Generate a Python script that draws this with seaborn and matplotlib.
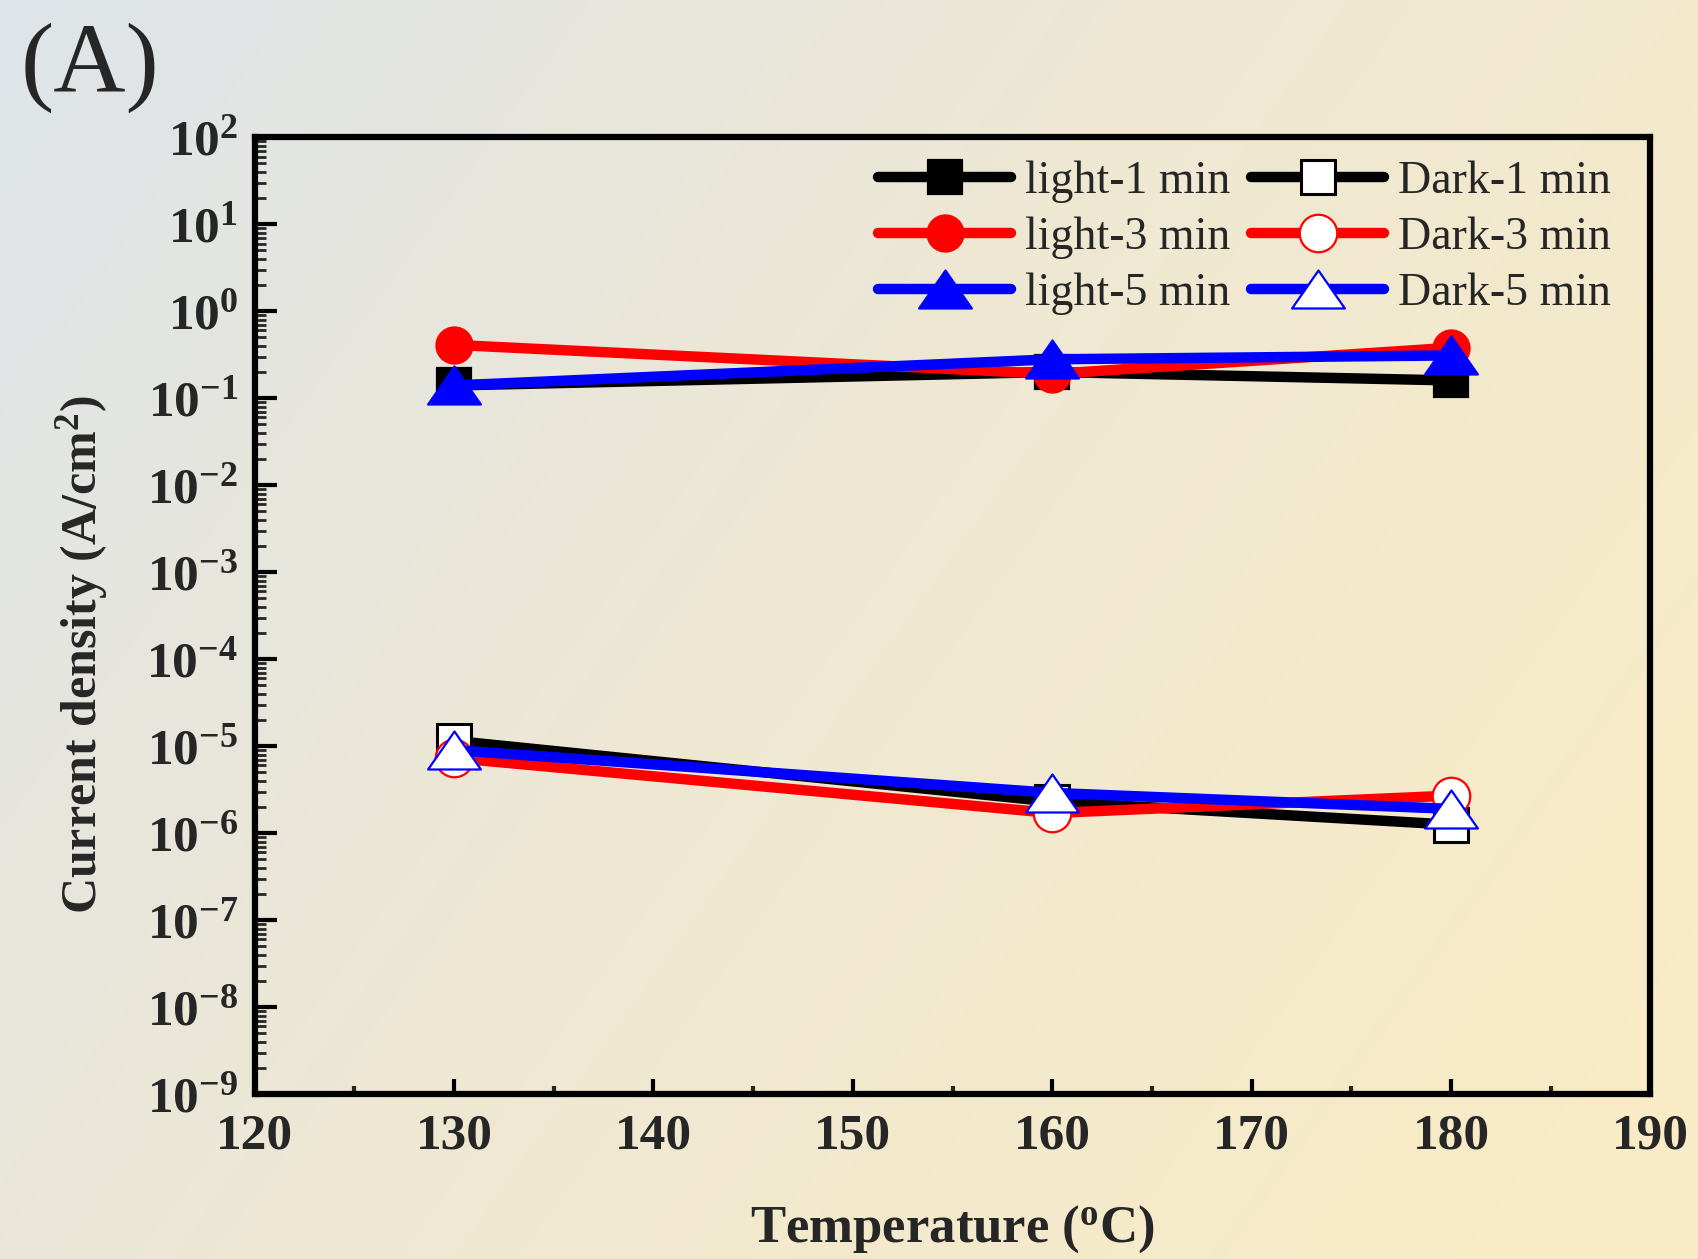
import matplotlib
matplotlib.use("Agg")
import matplotlib.pyplot as plt
import seaborn as sns
import numpy as np
import pandas as pd
from matplotlib.path import Path
from matplotlib.ticker import MultipleLocator, LogLocator, NullFormatter, FuncFormatter

# ---------------------------------------------------------------------------
# Data
# ---------------------------------------------------------------------------
temperature = [130, 160, 180]

light_1min = [0.14, 0.20, 0.16]
light_3min = [0.41, 0.19, 0.38]
light_5min = [0.14, 0.28, 0.31]

dark_1min = [1.15e-5, 2.3e-6, 1.25e-6]
dark_3min = [7.3e-6, 1.7e-6, 2.7e-6]
dark_5min = [9.0e-6, 2.9e-6, 1.9e-6]

x_ticks = [120, 130, 140, 150, 160, 170, 180, 190]

sns.set_theme(style="ticks")
plt.rcParams["font.family"] = ["Liberation Serif", "DejaVu Serif"]
plt.rcParams["mathtext.fontset"] = "custom"
plt.rcParams["mathtext.rm"] = "Liberation Serif:bold"
plt.rcParams["mathtext.bf"] = "Liberation Serif:bold"
plt.rcParams["mathtext.it"] = "Liberation Serif:bold"

# the triangles in the original are wider than tall
tri = Path([(-0.5, -0.36), (0.5, -0.36), (0.0, 0.36), (-0.5, -0.36)],
           [Path.MOVETO, Path.LINETO, Path.LINETO, Path.CLOSEPOLY])

fig = plt.figure(figsize=(16.98, 12.59), dpi=100)

# background gradient
bg = fig.add_axes([0, 0, 1, 1], zorder=-10)
gx, gy = np.meshgrid(np.linspace(0, 1, 400), np.linspace(0, 1, 300))
t = np.clip(0.72 * gx + 0.38 * gy, 0, 1)[..., None]
c0 = np.array([222, 228, 233]) / 255
c1 = np.array([238, 232, 212]) / 255
c2 = np.array([248, 235, 198]) / 255
img = np.where(t < 0.5, c0 + (c1 - c0) * (t / 0.5), c1 + (c2 - c1) * ((t - 0.5) / 0.5))
bg.imshow(img, aspect="auto", extent=[0, 1, 0, 1], origin="upper")
bg.axis("off")

ax = fig.add_axes([0.150, 0.131, 0.822, 0.760])
ax.set_facecolor("none")

series = [
    ("light-1 min", light_1min, "black", "s", 25, True),
    ("light-3 min", light_3min, "red", "o", 26, True),
    ("light-5 min", light_5min, "blue", tri, 38, True),
    ("Dark-1 min", dark_1min, "black", "s", 25, False),
    ("Dark-3 min", dark_3min, "red", "o", 27, False),
    ("Dark-5 min", dark_5min, "blue", tri, 38, False),
]

handles = []
for name, vals, color, mk, ms, filled in series:
    df = pd.DataFrame({"T": temperature, "J": vals})
    sns.lineplot(data=df, x="T", y="J", ax=ax, color=color, lw=7.5,
                 marker=mk, markersize=ms,
                 markeredgewidth=2.2 if (color == "black" and not filled) else 1.6,
                 markerfacecolor=color if filled else "white",
                 markeredgecolor=color,
                 label=name, legend=False)
    handles.append(ax.lines[-1])

ax.set_yscale("log")
ax.set_xlim(120, 190)
ax.set_ylim(1e-9, 1e2)
ax.set_xticks(x_ticks)
ax.xaxis.set_minor_locator(MultipleLocator(5))
ax.yaxis.set_major_locator(LogLocator(base=10, numticks=20))
ax.yaxis.set_minor_locator(LogLocator(base=10, subs=np.arange(2, 10), numticks=20))
ax.yaxis.set_minor_formatter(NullFormatter())
ax.yaxis.set_major_formatter(
    FuncFormatter(lambda v, p: r"$\mathbf{10^{%d}}$" % int(round(np.log10(v)))))

for s in ax.spines.values():
    s.set_linewidth(4.5)
    s.set_color("black")

ax.tick_params(axis="both", which="major", direction="in", width=3, color="black",
               labelsize=37)
ax.tick_params(axis="x", which="major", length=11, pad=14)
ax.tick_params(axis="y", which="major", length=16, pad=12)
ax.tick_params(axis="x", which="minor", direction="in", length=6, width=3)
ax.tick_params(axis="y", which="minor", direction="in", length=8, width=2)
for lab in ax.get_xticklabels():
    lab.set_fontweight("bold")

ax.set_xlabel(r"Temperature ($\mathregular{^{o}}$C)", fontsize=38, fontweight="bold",
              va="center")
ax.xaxis.set_label_coords(0.5, -0.141)
ax.set_ylabel(r"Current density (A/cm$\mathregular{^{2}}$)", fontsize=36,
              fontweight="bold", va="center")
ax.yaxis.set_label_coords(-0.124, 0.459)

ax.legend(handles, [s[0] for s in series], ncol=2, frameon=False, fontsize=33,
          loc="upper right", bbox_to_anchor=(0.988, 1.0), borderpad=0,
          handlelength=2.9, handletextpad=0.3, columnspacing=0.45,
          labelspacing=0.3)

fig.text(0.012, 0.946, "(A)", fontsize=72, ha="left", va="center")

fig.savefig("out.png", dpi=100)
